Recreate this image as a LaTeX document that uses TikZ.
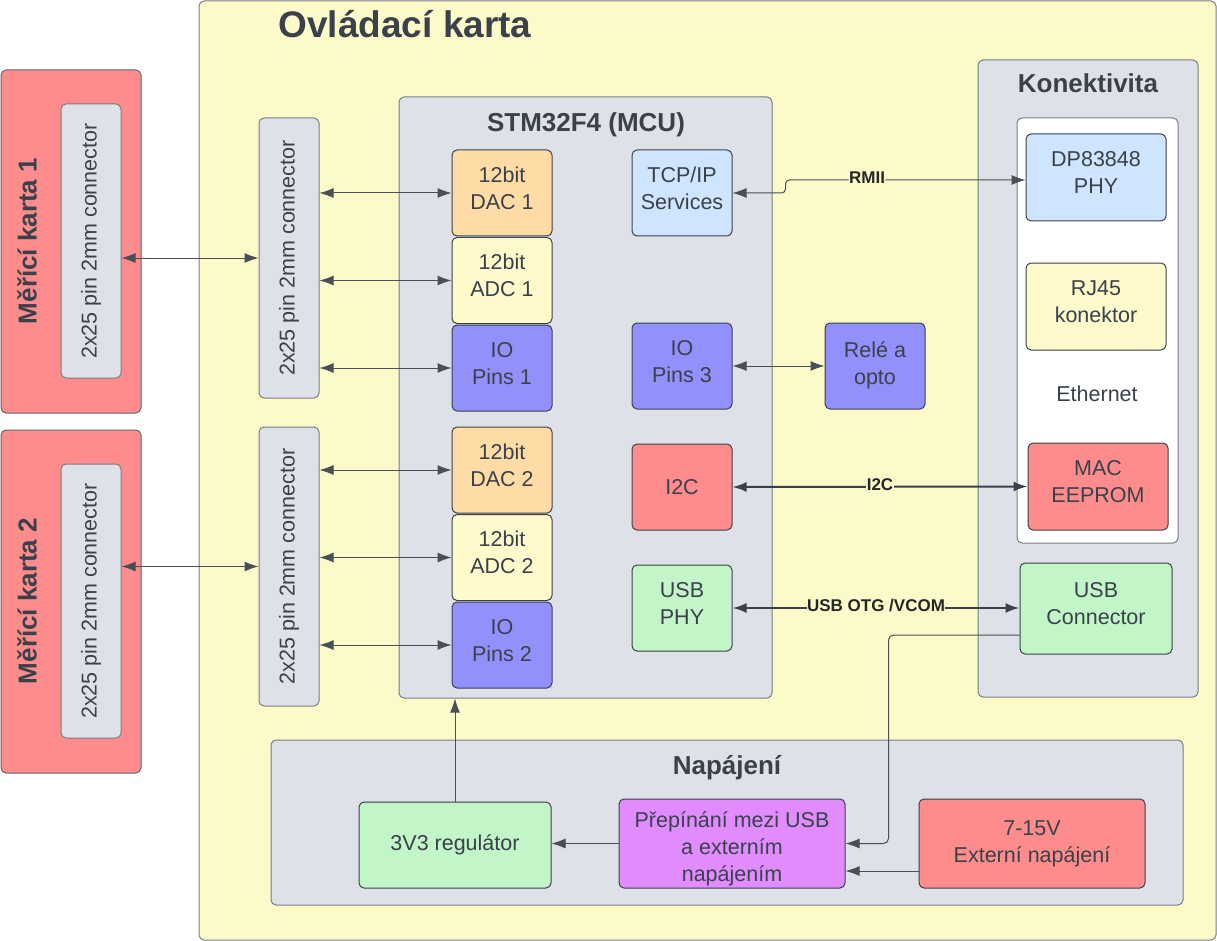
\documentclass[tikz,border=0pt]{standalone}
\usepackage{fontspec}
\setmainfont{Liberation Sans}
\usepackage{xcolor}
\usetikzlibrary{shapes,arrows.meta,positioning,fit,backgrounds}
\definecolor{txt}{RGB}{58, 65, 74}
\definecolor{bord}{RGB}{120, 125, 132}
\definecolor{wire}{RGB}{72, 79, 88}
\definecolor{boardbg}{RGB}{253, 250, 202}
\definecolor{panelbg}{RGB}{222, 226, 232}
\definecolor{cardred}{RGB}{255, 140, 140}
\definecolor{dacor}{RGB}{255, 220, 166}
\definecolor{adcyel}{RGB}{254, 250, 204}
\definecolor{iopurp}{RGB}{146, 144, 252}
\definecolor{phyblue}{RGB}{207, 228, 255}
\definecolor{usbgreen}{RGB}{194, 245, 200}
\definecolor{switchpur}{RGB}{224, 140, 255}
\tikzstyle{panel} = [rectangle, rounded corners=5pt, draw=bord, line width=1pt, fill=panelbg, inner sep=0pt]
\tikzstyle{blk} = [rectangle, rounded corners=5pt, draw=txt, line width=1pt, text=txt, align=center, inner sep=0pt, font=\fontsize{21.5}{27}\selectfont, minimum width=100pt, minimum height=86pt]
\tikzstyle{blktwo} = [blk, text depth=10pt]
\tikzstyle{textonly} = [draw=none, fill=none, text=txt, align=center, font=\fontsize{21.5}{27}\selectfont]
\tikzstyle{heading} = [textonly, font=\bfseries\fontsize{26}{30}\selectfont]
\tikzstyle{tedge} = [draw=wire, line width=1pt, {Latex[length=14pt,width=10pt]}-{Latex[length=14pt,width=10pt]}]
\tikzstyle{busedge} = [tedge, draw=txt, line width=2pt]
\tikzstyle{pedge} = [draw=wire, line width=1pt, -{Latex[length=14pt,width=10pt]}]
\tikzstyle{buslabel} = [auto=false, fill=boardbg, inner sep=0.5pt, yshift=2.5pt, text=black!85, font=\bfseries\fontsize{17}{20}\selectfont]

\begin{document}
\begin{tikzpicture}[auto, x=1pt, y=-1pt]
\useasboundingbox (0,0) rectangle (1217,941);

% boards ================================
\node[panel, fill=boardbg, minimum width=1017pt, minimum height=939pt] (board) at (707.5,470.5) {};
\node[textonly, anchor=base, font=\bfseries\fontsize{37}{40}\selectfont] (boardtitle) at (405,38) {Ovládací karta};

\node[panel, fill=cardred, draw=txt!80, minimum width=140pt, minimum height=343pt] (karta1) at (71,241.5) {};
\node[panel, minimum width=60pt, minimum height=274pt] (k1in) at (91,241) {};
\node[textonly, rotate=90] (k1txt) at (k1in) {2x25 pin 2mm connector};
\node[heading, rotate=90] (k1title) at (27,241) {Měřící karta 1};

\node[panel, fill=cardred, draw=txt!80, minimum width=140pt, minimum height=343pt] (karta2) at (71,601.5) {};
\node[panel, minimum width=60pt, minimum height=274pt] (k2in) at (91,601) {};
\node[textonly, rotate=90] (k2txt) at (k2in) {2x25 pin 2mm connector};
\node[heading, rotate=90] (k2title) at (27,601) {Měřící karta 2};

% connectors
\node[panel, minimum width=60pt, minimum height=280pt] (con1) at (289,258) {};
\node[textonly, rotate=90] (con1txt) at (con1) {2x25 pin 2mm connector};
\node[panel, minimum width=60pt, minimum height=279pt] (con2) at (289,566.5) {};
\node[textonly, rotate=90] (con2txt) at (con2) {2x25 pin 2mm connector};

% MCU ===================================
\node[panel, minimum width=373pt, minimum height=601pt] (mcu) at (585.5,397.5) {};
\node[heading, anchor=base] (mcutitle) at (586,132) {STM32F4 (MCU)};

\node[blktwo, fill=dacor] (dac1) at (502,193) {12bit\\DAC 1};
\node[blktwo, fill=adcyel, below=0.5pt of dac1] (adc1) {12bit\\ADC 1};
\node[blktwo, fill=iopurp, below=0.5pt of adc1] (io1) {IO\\Pins 1};
\node[blktwo, fill=dacor] (dac2) at (502,470) {12bit\\DAC 2};
\node[blktwo, fill=adcyel, below=0.5pt of dac2] (adc2) {12bit\\ADC 2};
\node[blktwo, fill=iopurp, below=0.5pt of adc2] (io2) {IO\\Pins 2};

\node[blktwo, fill=phyblue] (tcp) at (682,193) {TCP/IP\\Services};
\node[blktwo, fill=iopurp] (io3) at (682,366) {IO\\Pins 3};
\node[blk, fill=cardred] (i2c) at (682,487) {I2C};
\node[blktwo, fill=usbgreen] (usbphy) at (682,608) {USB\\PHY};

\node[blktwo, fill=iopurp, text depth=6pt] (rele) at (875,366) {Relé a\\opto};

% connectivity ==========================
\node[panel, minimum width=220pt, minimum height=637pt] (konekt) at (1088,378.5) {};
\node[heading, anchor=base] (konekttitle) at (1088,93) {Konektivita};
\node[panel, fill=white, minimum width=161pt, minimum height=425pt] (eth) at (1097.5,330.5) {};
\node[blktwo, fill=phyblue, minimum width=140pt, minimum height=87pt] (phy) at (1096,177.5) {DP83848\\PHY};
\node[blktwo, fill=adcyel, minimum width=140pt, minimum height=87pt] (rj45) at (1096,306.5) {RJ45\\konektor};
\node[textonly] (ethtxt) at (1097,394) {Ethernet};
\node[blktwo, fill=cardred, minimum width=140pt, minimum height=87pt] (mac) at (1098,486.5) {MAC\\EEPROM};
\node[blktwo, fill=usbgreen, minimum width=152pt, minimum height=91pt] (usbcon) at (1096,608.5) {USB\\Connector};

% power =================================
\node[panel, minimum width=912pt, minimum height=165pt] (napajeni) at (727,822.5) {};
\node[heading, anchor=base] (naptitle) at (727,774) {Napájení};
\node[blk, fill=usbgreen, minimum width=192pt, minimum height=86pt] (reg) at (455,845) {3V3 regulátor};
\node[blk, fill=switchpur, minimum width=226pt, minimum height=89pt, text height=75pt, text depth=0pt] (prep) at (732,843.5) {Přepínání mezi USB\\a externím\\napájením};
\node[blktwo, fill=cardred, minimum width=226pt, minimum height=89pt, text depth=4pt] (ext) at (1032,843.5) {7-15V\\Externí napájení};

% edges
\path[tedge] (k1in.east |- con1.west) -- (con1.west);
\path[tedge] (con1.east |- dac1.west) -- (dac1.west);
\path[tedge] (con1.east |- adc1.west) -- (adc1.west);
\path[tedge] (con1.east |- io1.west) -- (io1.west);
\path[tedge] (k2in.east |- con2.west) -- (con2.west);
\path[tedge] (con2.east |- dac2.west) -- (dac2.west);
\path[tedge] (con2.east |- adc2.west) -- (adc2.west);
\path[tedge] (con2.east |- io2.west) -- (io2.west);
\path[tedge] (io3.east) -- (rele.west);

% bus edges
\path[tedge, rounded corners=4pt] (tcp.east) -- ++(53,0) |- node[buslabel, pos=0.67] (rmii) {RMII} ([yshift=-2.5pt]phy.west);
\path[busedge] (i2c.east) -- node[buslabel] (i2clbl) {I2C} (mac.west);
\path[busedge] (usbphy.east) -- node[buslabel] (usblbl) {USB OTG /VCOM} (usbcon.west |- usbphy.east);

% power edges
\path[pedge, rounded corners=5pt] ([yshift=-26.5pt]usbcon.west) -| ([xshift=43pt]prep.east) -- (prep.east);
\path[pedge] ([yshift=-27.5pt]ext.west) -- ([yshift=-27.5pt]prep.east);
\path[pedge] (prep.west) -- (prep.west -| reg.east);
\path[pedge] (reg.north) -- (reg.north |- mcu.south);

\end{tikzpicture}
\end{document}
